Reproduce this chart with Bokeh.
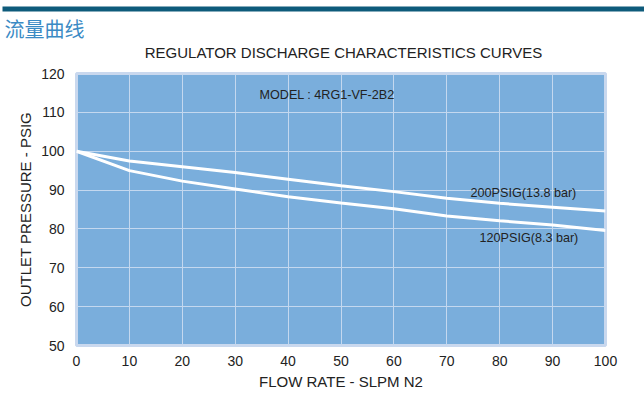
from bokeh.plotting import figure
from bokeh.models import Label, FixedTicker
from bokeh.layouts import column
from bokeh.core.properties import value
from bokeh.embed import file_html
from bokeh.resources import INLINE

# ---- data ----
flow = [0, 10, 20, 30, 40, 50, 60, 70, 80, 90, 100]
psig_200 = [100, 97.5, 96.0, 94.5, 92.8, 91.1, 89.6, 87.9, 86.6, 85.6, 84.6]
psig_120 = [100, 95.0, 92.3, 90.3, 88.3, 86.7, 85.2, 83.3, 82.1, 81.0, 79.6]
x_ticks = [0, 10, 20, 30, 40, 50, 60, 70, 80, 90, 100]
y_ticks = [50, 60, 70, 80, 90, 100, 110, 120]

page_title = "流量曲线"
chart_title = "REGULATOR DISCHARGE CHARACTERISTICS CURVES"
model_text = "MODEL : 4RG1-VF-2B2"
label_200 = "200PSIG(13.8 bar)"
label_120 = "120PSIG(8.3 bar)"
x_label = "FLOW RATE - SLPM N2"
y_label = "OUTLET PRESSURE - PSIG"

BAR = "#0e5b7b"
BG = "#7aaedc"
GRID = "#c4d8ef"
TXT = "#222222"
FONT = "Liberation Sans"

W = 644
HEAD_H = 62

# ---- header (pixel-space figure) ----
head = figure(width=W, height=HEAD_H, x_range=(0, W), y_range=(HEAD_H, 0),
              min_border=0, toolbar_location=None, output_backend="svg",
              x_axis_type=None, y_axis_type=None, outline_line_color=None,
              background_fill_color="white", border_fill_color="white")
head.frame_align = False
head.grid.visible = False
head.quad(left=[2], right=[W], top=[6], bottom=[11], fill_color=BAR, line_color=None)
head.text(x=[4], y=[28], text=[page_title], text_font=value("Noto Sans CJK SC"),
          text_font_size="20px", text_color="#3a8ac4", text_baseline="middle",
          text_align="left")
head.text(x=[343], y=[52], text=[chart_title], text_font=value(FONT),
          text_font_size="15px", text_color=TXT, text_baseline="middle",
          text_align="center")

# ---- main chart ----
p = figure(frame_width=529, frame_height=272, x_range=(0, 100), y_range=(50, 120),
           min_border_left=76, min_border_right=W - 76 - 529, min_border_top=11,
           min_border_bottom=53, toolbar_location=None, output_backend="svg",
           background_fill_color=BG, border_fill_color="white",
           outline_line_color="#c9d8ee", outline_line_width=3)
p.frame_align = False

p.line(flow, psig_200, line_color="white", line_width=3)
p.line(flow, psig_120, line_color="white", line_width=3)

for g in (p.xgrid[0], p.ygrid[0]):
    g.grid_line_color = GRID
    g.grid_line_width = 1

p.xaxis.ticker = FixedTicker(ticks=x_ticks)
p.yaxis.ticker = FixedTicker(ticks=y_ticks)
p.xgrid.ticker = FixedTicker(ticks=x_ticks)
p.ygrid.ticker = FixedTicker(ticks=y_ticks)

for ax in (p.xaxis[0], p.yaxis[0]):
    ax.axis_line_color = None
    ax.major_tick_line_color = None
    ax.minor_tick_line_color = None
    ax.major_tick_out = 0
    ax.major_tick_in = 0
    ax.minor_tick_out = 0
    ax.major_label_text_font = FONT
    ax.major_label_text_font_size = "14px"
    ax.major_label_text_color = TXT
    ax.axis_label_text_font = FONT
    ax.axis_label_text_font_size = "15px"
    ax.axis_label_text_font_style = "normal"
    ax.axis_label_text_color = TXT

p.xaxis.axis_label = x_label
p.yaxis.axis_label = y_label
p.xaxis.major_label_standoff = 10
p.xaxis.axis_label_standoff = 4
p.yaxis.major_label_standoff = 12
p.yaxis.axis_label_standoff = 4

# in-plot labels
for tx, xx, yy in ((model_text, 34.6, 114.5), (label_200, 74.5, 89.25), (label_120, 76.2, 77.7)):
    p.add_layout(Label(x=xx, y=yy, text=tx, text_font=FONT, text_font_size="12.6px",
                       text_color=TXT, text_baseline="middle", text_align="left"))

layout = column(head, p, spacing=0)
open("out.html", "w").write(file_html(layout, INLINE))
